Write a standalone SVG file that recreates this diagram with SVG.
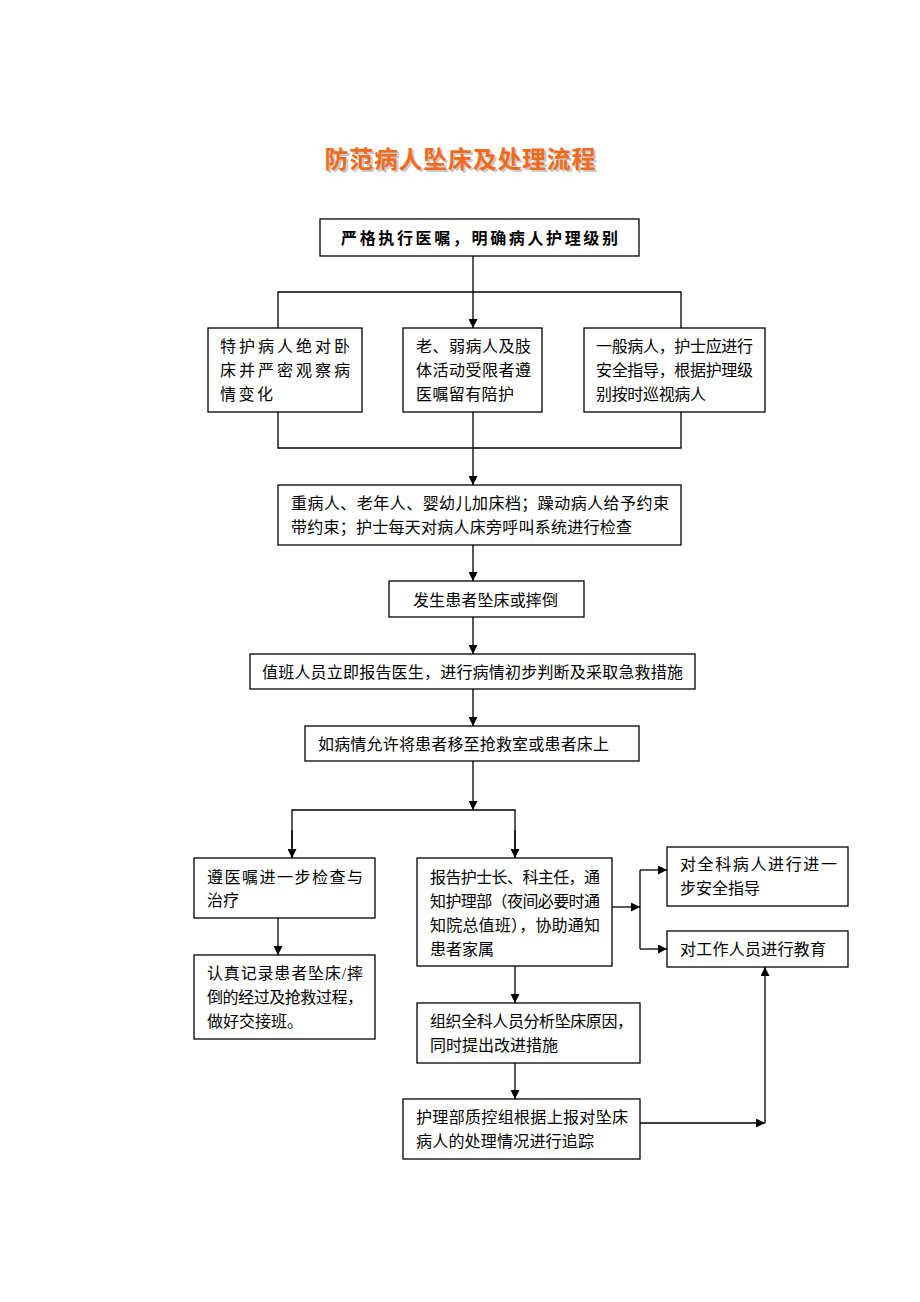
<svg xmlns="http://www.w3.org/2000/svg" width="920" height="1302" viewBox="0 0 920 1302">
<style>
.box{fill:#fff;stroke:#000;stroke-width:1.3}
.t{font-family:"Liberation Serif","Noto Sans CJK SC",serif;font-size:16px;fill:#000}
.c{fill:none;stroke:#000;stroke-width:1.3}
.title{font-family:"Liberation Serif","Noto Sans CJK SC",serif;font-size:24px;font-weight:bold}
</style>
<defs>
<marker id="a" viewBox="0 0 10 10" refX="10" refY="5" markerWidth="9" markerHeight="9" markerUnits="userSpaceOnUse" orient="auto"><path d="M0,0 L10,5 L0,10 z" fill="#000"/></marker>
</defs>
<rect width="920" height="1302" fill="#fff"/>
<g id="title">
<text class="title" x="462" y="170" text-anchor="middle" fill="#c8c8c8" textLength="271">防范病人坠床及处理流程</text>
<text class="title" x="460" y="168" text-anchor="middle" fill="#F26B1D" textLength="271">防范病人坠床及处理流程</text>
</g>
<g id="connectors">
<path class="c" d="M473,256 V328" marker-end="url(#a)"/>
<path class="c" d="M278,328 V292 H681 V328"/>
<path class="c" d="M278,412 V448 H681 V412"/>
<path class="c" d="M473,412 V485" marker-end="url(#a)"/>
<path class="c" d="M473,545 V581" marker-end="url(#a)"/>
<path class="c" d="M473,617 V654" marker-end="url(#a)"/>
<path class="c" d="M473,689 V726" marker-end="url(#a)"/>
<path class="c" d="M473,761 V810" marker-end="url(#a)"/>
<path class="c" d="M292,858 V810 H515 V858" />
<path class="c" d="M292,830 V858" marker-end="url(#a)"/>
<path class="c" d="M515,830 V858" marker-end="url(#a)"/>
<path class="c" d="M278,918 V955" marker-end="url(#a)"/>
<path class="c" d="M612,907 H640" marker-end="url(#a)"/>
<path class="c" d="M640,870 V949"/>
<path class="c" d="M640,870 H667" marker-end="url(#a)"/>
<path class="c" d="M640,949 H667" marker-end="url(#a)"/>
<path class="c" d="M515,966 V1003" marker-end="url(#a)"/>
<path class="c" d="M515,1063 V1099" marker-end="url(#a)"/>
<path class="c" d="M640,1123 H765" marker-end="url(#a)"/>
<path class="c" d="M765,1123 V967" marker-end="url(#a)"/>
</g>
<g id="n1">
<rect class="box" x="320" y="219" width="319" height="37"/>
<text class="t" x="341" y="244" font-size="18" font-weight="bold" textLength="277">严格执行医嘱，明确病人护理级别</text>
</g>
<g id="nA">
<rect class="box" x="208" y="328" width="154" height="84"/>
<text class="t" x="220" y="352" textLength="130">特护病人绝对卧</text>
<text class="t" x="220" y="376" textLength="130">床并严密观察病</text>
<text class="t" x="220" y="400" textLength="53">情变化</text>
</g>
<g id="nB">
<rect class="box" x="403" y="328" width="139" height="84"/>
<text class="t" x="416" y="352" textLength="115">老、弱病人及肢</text>
<text class="t" x="416" y="376" textLength="115">体活动受限者遵</text>
<text class="t" x="416" y="400" textLength="98">医嘱留有陪护</text>
</g>
<g id="nC">
<rect class="box" x="584" y="328" width="181" height="84"/>
<text class="t" x="596" y="352" textLength="157">一般病人，护士应进行</text>
<text class="t" x="596" y="376" textLength="157">安全指导，根据护理级</text>
<text class="t" x="596" y="400" textLength="110">别按时巡视病人</text>
</g>
<g id="nD">
<rect class="box" x="278" y="485" width="403" height="60"/>
<text class="t" x="291" y="509" textLength="378">重病人、老年人、婴幼儿加床档；躁动病人给予约束</text>
<text class="t" x="291" y="533" textLength="341">带约束；护士每天对病人床旁呼叫系统进行检查</text>
</g>
<g id="nE">
<rect class="box" x="389" y="581" width="195" height="36"/>
<text class="t" x="413" y="606" textLength="145">发生患者坠床或摔倒</text>
</g>
<g id="nF">
<rect class="box" x="250" y="654" width="445" height="35"/>
<text class="t" x="262" y="678" textLength="421">值班人员立即报告医生，进行病情初步判断及采取急救措施</text>
</g>
<g id="nG">
<rect class="box" x="305" y="726" width="334" height="35"/>
<text class="t" x="318" y="750" textLength="291">如病情允许将患者移至抢救室或患者床上</text>
</g>
<g id="nH">
<rect class="box" x="194" y="858" width="181" height="60"/>
<text class="t" x="207" y="883" textLength="156">遵医嘱进一步检查与</text>
<text class="t" x="207" y="906">治疗</text>
</g>
<g id="nI">
<rect class="box" x="194" y="955" width="181" height="84"/>
<text class="t" x="207" y="979" textLength="156">认真记录患者坠床/摔</text>
<text class="t" x="207" y="1003" textLength="156">倒的经过及抢救过程，</text>
<text class="t" x="207" y="1027">做好交接班。</text>
</g>
<g id="nJ">
<rect class="box" x="417" y="858" width="195" height="108"/>
<text class="t" x="430" y="883" textLength="170">报告护士长、科主任，通</text>
<text class="t" x="430" y="907" textLength="170">知护理部（夜间必要时通</text>
<text class="t" x="430" y="931" textLength="170">知院总值班），协助通知</text>
<text class="t" x="430" y="955">患者家属</text>
</g>
<g id="nK">
<rect class="box" x="667" y="847" width="181" height="59"/>
<text class="t" x="680" y="870" textLength="157">对全科病人进行进一</text>
<text class="t" x="680" y="894">步安全指导</text>
</g>
<g id="nL">
<rect class="box" x="667" y="931" width="181" height="36"/>
<text class="t" x="680" y="955" textLength="146">对工作人员进行教育</text>
</g>
<g id="nM">
<rect class="box" x="417" y="1003" width="223" height="60"/>
<text class="t" x="430" y="1027" textLength="203">组织全科人员分析坠床原因，</text>
<text class="t" x="430" y="1051" textLength="128">同时提出改进措施</text>
</g>
<g id="nN">
<rect class="box" x="403" y="1099" width="237" height="60"/>
<text class="t" x="416" y="1123" textLength="212">护理部质控组根据上报对坠床</text>
<text class="t" x="416" y="1147" textLength="178">病人的处理情况进行追踪</text>
</g>
</svg>
